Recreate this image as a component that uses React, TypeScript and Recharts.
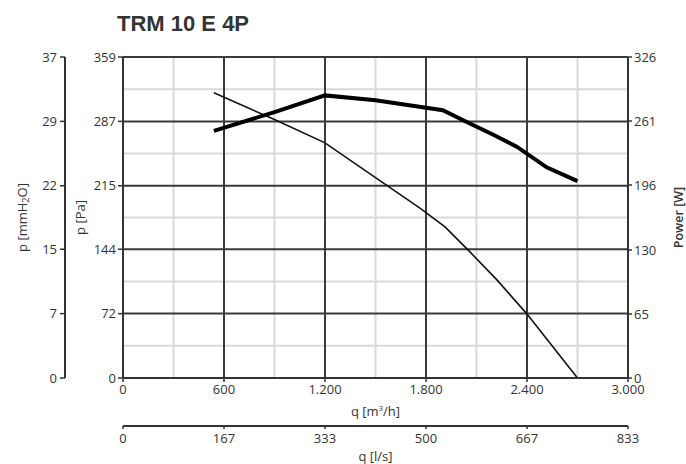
import React from 'react';
import { ComposedChart, Line, XAxis, YAxis, CartesianGrid } from 'recharts';

const flowTicks = [0, 600, 1200, 1800, 2400, 3000];
const flowMinorTicks = [300, 900, 1500, 2100, 2700];
const litreLabels = ['0', '167', '333', '500', '667', '833'];
const paTicks = [0, 72, 144, 215, 287, 359];
const paMinorTicks = [36, 108, 179.5, 251, 323];
const mmLabels = ['0', '7', '15', '22', '29', '37'];
const powerTicks = [0, 65, 130, 196, 261, 326];

const pressureFlow = [540, 900, 1200, 1500, 1764, 1913, 2061, 2220, 2398, 2537, 2700];
const pressureValues = [319, 289, 263, 224, 190, 169, 141, 110, 72, 39, 0];
const powerFlow = [540, 900, 1200, 1500, 1900, 2042, 2200, 2339, 2517, 2700];
const powerValues = [251, 270, 287, 282, 272, 260, 247, 235, 214, 200];

const pressureData = pressureFlow.map((q, i) => ({ q, p: pressureValues[i] }));
const powerData = powerFlow.map((q, i) => ({ q, w: powerValues[i] }));

const FONT = "'Open Sans', 'Noto Sans', sans-serif";
const INK = '#333333';

const fmtFlow = (n: number) =>
  n >= 1000 ? `${Math.floor(n / 1000)}.${String(n % 1000).padStart(3, '0')}` : String(n);

function VLabel(props: any) {
  const { viewBox, shiftX, kind } = props;
  const x = viewBox.x + shiftX;
  const y = viewBox.y + viewBox.height / 2;
  let content: any = null;
  if (kind === 'mm') {
    content = (
      <>
        <tspan>p [mmH</tspan>
        <tspan dy={3} fontSize={9}>2</tspan>
        <tspan dy={-3}>O]</tspan>
      </>
    );
  } else if (kind === 'pa') {
    content = 'p [Pa]';
  } else {
    content = 'Power [W]';
  }
  return (
    <text
      x={x}
      y={y}
      transform={`rotate(-90 ${x} ${y})`}
      textAnchor="middle"
      dominantBaseline="central"
      fontFamily={FONT}
      fontSize={kind === 'power' ? 12.5 : 13}
      fontWeight={kind === 'power' ? 600 : 400}
      fill={INK}
    >
      {content}
    </text>
  );
}

function HLabel(props: any) {
  const { viewBox, shiftY, kind } = props;
  const x = viewBox.x + viewBox.width / 2;
  const y = viewBox.y + shiftY;
  const content =
    kind === 'm3' ? (
      <>
        <tspan>q [m</tspan>
        <tspan dy={-4} fontSize={8}>3</tspan>
        <tspan dy={4}>/h]</tspan>
      </>
    ) : (
      'q [l/s]'
    );
  return (
    <text x={x} y={y} textAnchor="middle" dominantBaseline="central" fontFamily={FONT} fontSize={13} fill={INK}>
      {content}
    </text>
  );
}

const tickStyle = { fill: INK, fontSize: 13, fontFamily: FONT };
const axisLineStyle = { stroke: INK, strokeWidth: 2 };
const tickLineStyle = { stroke: INK, strokeWidth: 1.5 };

export default function App() {
  return (
    <div style={{ position: 'absolute', left: 0, top: 0, width: 686, height: 464, background: '#fff' }}>
      <div
        style={{
          position: 'absolute',
          left: 117,
          top: 13,
          fontFamily: "'Liberation Sans', Arial, sans-serif",
          fontWeight: 700,
          fontSize: 22,
          lineHeight: '22px',
          color: INK,
          whiteSpace: 'nowrap',
        }}
      >
        TRM 10 E 4P
      </div>
      <ComposedChart width={686} height={464} data={pressureData} margin={{ top: 57, right: 0, bottom: 0, left: 8 }}>
        <CartesianGrid xAxisId="xminor" yAxisId="yminor" stroke="#d9d9d9" strokeWidth={2} />
        <CartesianGrid xAxisId="flow" yAxisId="a_pa" stroke="#3a3a3a" strokeWidth={2} />
        <XAxis
          xAxisId="flow"
          type="number"
          dataKey="q"
          domain={[0, 3000]}
          ticks={flowTicks}
          tickFormatter={fmtFlow}
          allowDataOverflow
          height={48}
          tickSize={4}
          tickMargin={3}
          tick={tickStyle}
          axisLine={axisLineStyle}
          tickLine={tickLineStyle}
          label={<HLabel shiftY={33} kind="m3" />}
        />
        <XAxis
          xAxisId="litre"
          type="number"
          dataKey="q"
          domain={[0, 3000]}
          ticks={flowTicks}
          tickFormatter={(_v: number, i: number) => litreLabels[i]}
          allowDataOverflow
          height={38}
          tickSize={3}
          tickMargin={5}
          tick={tickStyle}
          axisLine={axisLineStyle}
          tickLine={tickLineStyle}
          label={<HLabel shiftY={30} kind="ls" />}
        />
        <XAxis xAxisId="xminor" type="number" dataKey="q" domain={[0, 3000]} ticks={flowMinorTicks} allowDataOverflow hide />
        <YAxis
          yAxisId="a_pa"
          type="number"
          domain={[0, 359]}
          ticks={paTicks}
          allowDataOverflow
          width={58}
          tickSize={5}
          tickMargin={2}
          tick={tickStyle}
          axisLine={axisLineStyle}
          tickLine={tickLineStyle}
          label={<VLabel shiftX={15} kind="pa" />}
        />
        <YAxis
          yAxisId="b_mm"
          type="number"
          domain={[0, 359]}
          ticks={paTicks}
          tickFormatter={(_v: number, i: number) => mmLabels[i]}
          allowDataOverflow
          width={57}
          tickSize={5}
          tickMargin={3}
          tick={tickStyle}
          axisLine={axisLineStyle}
          tickLine={tickLineStyle}
          label={<VLabel shiftX={14} kind="mm" />}
        />
        <YAxis yAxisId="yminor" type="number" domain={[0, 359]} ticks={paMinorTicks} allowDataOverflow hide />
        <YAxis
          yAxisId="power"
          orientation="right"
          type="number"
          domain={[0, 326]}
          ticks={powerTicks}
          allowDataOverflow
          width={58}
          tickSize={4}
          tickMargin={2}
          tick={tickStyle}
          axisLine={axisLineStyle}
          tickLine={tickLineStyle}
          label={<VLabel shiftX={50} kind="power" />}
        />
        <Line
          xAxisId="flow"
          yAxisId="a_pa"
          dataKey="p"
          type="linear"
          stroke="#111"
          strokeWidth={1.6}
          dot={false}
          activeDot={false}
          isAnimationActive={false}
        />
        <Line
          xAxisId="flow"
          yAxisId="power"
          data={powerData}
          dataKey="w"
          type="linear"
          stroke="#000"
          strokeWidth={4}
          dot={false}
          activeDot={false}
          isAnimationActive={false}
        />
      </ComposedChart>
    </div>
  );
}
